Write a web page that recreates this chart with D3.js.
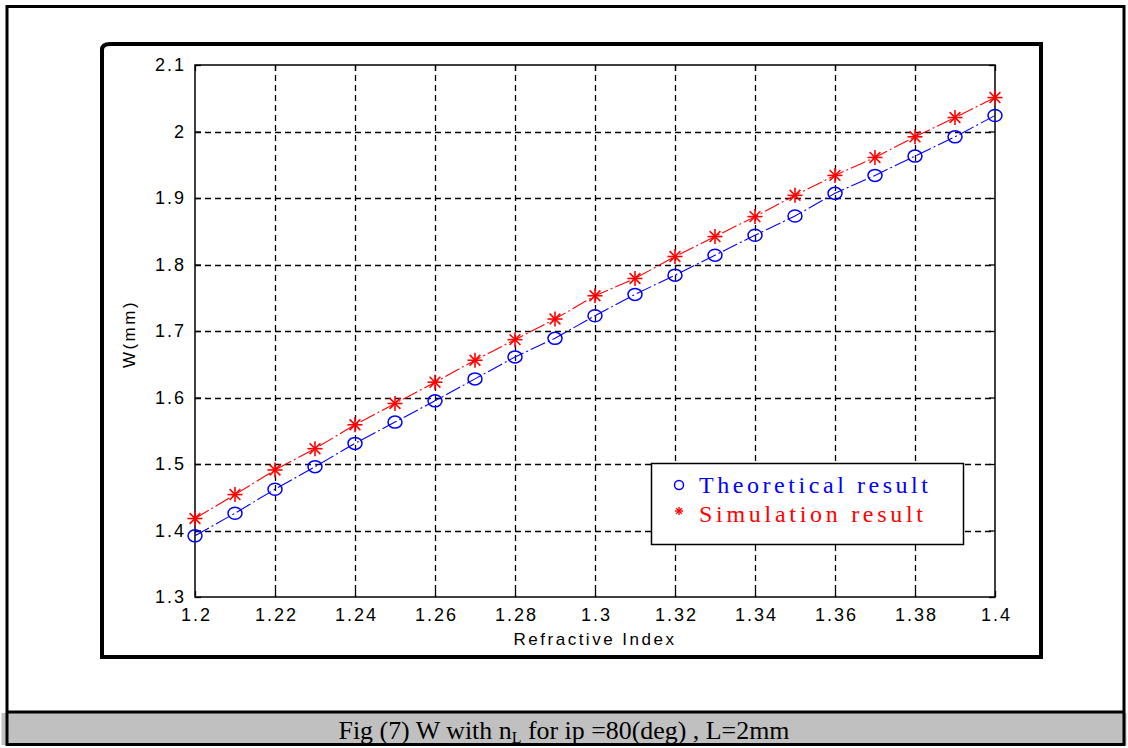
<!DOCTYPE html>
<html lang="en">
  <head>
    <meta charset="utf-8" />
    <title>Fig (7) W with nL</title>
    <script type="text/javascript" src="https://cdn.jsdelivr.net/npm/d3@7"></script>
    <style>
      body { margin:0; padding:0; background:#ffffff; }
      svg { display:block; }
    </style>
  </head>
  <body>
    <script type="text/javascript">
      var refIndex= [1.20,1.21,1.22,1.23,1.24,1.25,1.26,1.27,1.28,1.29,1.30,1.31,1.32,1.33,1.34,1.35,1.36,1.37,1.38,1.39,1.40];
      var theoretical= [1.392,1.426,1.462,1.496,1.531,1.563,1.595,1.628,1.661,1.689,1.723,1.755,1.784,1.814,1.844,1.873,1.907,1.934,1.963,1.992,2.024];
      var simulation= [1.418,1.454,1.491,1.523,1.559,1.591,1.623,1.656,1.687,1.718,1.753,1.779,1.812,1.842,1.872,1.904,1.934,1.961,1.992,2.021,2.051];
      var xTicks= [1.2,1.22,1.24,1.26,1.28,1.3,1.32,1.34,1.36,1.38,1.4];
      var xTickLabels= ["1.2","1.22","1.24","1.26","1.28","1.3","1.32","1.34","1.36","1.38","1.4"];
      var yTicks= [1.3,1.4,1.5,1.6,1.7,1.8,1.9,2.0,2.1];
      var yTickLabels= ["1.3","1.4","1.5","1.6","1.7","1.8","1.9","2","2.1"];
      var legendNames= ["Theoretical result","Simulation result"];
      var captionText= ["Fig (7) W with n","L"," for ip =80(deg) , L=2mm"];

      var W= 1128, H= 748;
      var plotL= 195, plotR= 995, plotT= 65, plotB= 597;

      var svg= d3.select("body")
                 .append("svg")
                 .attr("width",W)
                 .attr("height",H)

      /*~~~~~~~~~~~~~~~~~~~~~~~~~~~~~~ OUTER PAGE FRAME + CAPTION ~~~~~~~~~~~~~~~~~~~~~~~~~~~~~~*/

      svg.append("rect")
         .attr("x",1.5).attr("y",713)
         .attr("width",W-3).attr("height",32)
         .attr("fill","#c0c0c0")

      svg.append("rect")
         .attr("x",7).attr("y",6.5)
         .attr("width",1117).attr("height",738)
         .attr("fill","none")
         .attr("stroke","#000")
         .attr("stroke-width",3)

      svg.append("line")
         .attr("x1",7).attr("x2",1124)
         .attr("y1",712).attr("y2",712)
         .attr("stroke","#000")
         .attr("stroke-width",3)

      var caption= svg.append("text")
                      .attr("x",W/2)
                      .attr("y",739)
                      .attr("text-anchor","middle")
                      .attr("font-family","'Liberation Serif', 'Times New Roman', serif")
                      .attr("font-size",26)
                      .attr("textLength",451)
                      .attr("lengthAdjust","spacingAndGlyphs")
                      .attr("fill","#000")
      caption.append("tspan").text(captionText[0])
      caption.append("tspan").attr("baseline-shift","-25%").attr("font-size",16).text(captionText[1])
      caption.append("tspan").text(captionText[2])

      /*~~~~~~~~~~~~~~~~~~~~~~~~~~~~~~ FIGURE FRAME (thick) ~~~~~~~~~~~~~~~~~~~~~~~~~~~~~~*/

      svg.append("path")
         .attr("d","M102,657 L102,50 Q102,44 110,44 L1041,44 L1041,657 Z")
         .attr("fill","none")
         .attr("stroke","#000")
         .attr("stroke-width",4)

      /*~~~~~~~~~~~~~~~~~~~~~~~~~~~~~~ SCALES ~~~~~~~~~~~~~~~~~~~~~~~~~~~~~~*/

      var x= d3.scaleLinear().domain([1.2,1.4]).range([plotL,plotR]);
      var y= d3.scaleLinear().domain([1.3,2.1]).range([plotB,plotT]);

      /*~~~~~~~~~~~~~~~~~~~~~~~~~~~~~~ GRID ~~~~~~~~~~~~~~~~~~~~~~~~~~~~~~*/

      var grid= svg.append("g").attr("stroke","#000").attr("stroke-width",1.3).attr("stroke-dasharray","6,4")

      grid.selectAll(".vgrid")
          .data(xTicks.slice(1,-1))
          .enter()
          .append("line")
          .attr("x1",function(d) { return Math.round(x(d))+0.5; })
          .attr("x2",function(d) { return Math.round(x(d))+0.5; })
          .attr("y1",plotT).attr("y2",plotB)

      grid.selectAll(".hgrid")
          .data(yTicks.slice(1,-1))
          .enter()
          .append("line")
          .attr("y1",function(d) { return Math.round(y(d))+0.5; })
          .attr("y2",function(d) { return Math.round(y(d))+0.5; })
          .attr("x1",plotL).attr("x2",plotR)

      /*~~~~~~~~~~~~~~~~~~~~~~~~~~~~~~ AXES ~~~~~~~~~~~~~~~~~~~~~~~~~~~~~~*/

      var tickFont= "'Liberation Sans', Arial, sans-serif";

      var xAxis= svg.append("g")
                    .attr("transform","translate(0,"+plotB+")")
                    .call(d3.axisBottom(x).tickValues(xTicks).tickSizeInner(-6).tickSizeOuter(0).tickPadding(11)
                          .tickFormat(function(d,i) { return xTickLabels[i]; }))
      xAxis.select(".domain").remove()
      xAxis.selectAll("line").attr("stroke","#000").attr("stroke-width",1.3)
      xAxis.selectAll("text").attr("font-family",tickFont).attr("font-size",18).attr("letter-spacing",2).attr("dx",1).attr("fill","#000")

      var yAxis= svg.append("g")
                    .attr("transform","translate("+plotL+",0)")
                    .call(d3.axisLeft(y).tickValues(yTicks).tickSizeInner(-6).tickSizeOuter(0).tickPadding(9)
                          .tickFormat(function(d,i) { return yTickLabels[i]; }))
      yAxis.select(".domain").remove()
      yAxis.selectAll("line").attr("stroke","#000").attr("stroke-width",1.3)
      yAxis.selectAll("text").attr("font-family",tickFont).attr("font-size",18).attr("letter-spacing",2).attr("fill","#000")

      // matching inner ticks on top and right
      svg.append("g")
         .call(d3.axisTop(x).tickValues(xTicks).tickSizeInner(-6).tickSizeOuter(0).tickFormat(""))
         .attr("transform","translate(0,"+plotT+")")
         .call(function(g) { g.select(".domain").remove(); g.selectAll("line").attr("stroke","#000").attr("stroke-width",1.3); })

      svg.append("g")
         .call(d3.axisRight(y).tickValues(yTicks).tickSizeInner(-6).tickSizeOuter(0).tickFormat(""))
         .attr("transform","translate("+plotR+",0)")
         .call(function(g) { g.select(".domain").remove(); g.selectAll("line").attr("stroke","#000").attr("stroke-width",1.3); })

      svg.append("rect")
         .attr("x",plotL).attr("y",plotT)
         .attr("width",plotR-plotL).attr("height",plotB-plotT)
         .attr("fill","none")
         .attr("stroke","#000")
         .attr("stroke-width",1.5)

      svg.append("text")
         .attr("x",(plotL+plotR)/2)
         .attr("y",645)
         .attr("text-anchor","middle")
         .attr("font-family",tickFont)
         .attr("font-size",17)
         .attr("letter-spacing",2.5)
         .text("Refractive Index")

      svg.append("text")
         .attr("transform","translate(135,"+334+") rotate(-90)")
         .attr("text-anchor","middle")
         .attr("font-family",tickFont)
         .attr("font-size",17)
         .attr("letter-spacing",2.5)
         .text("W(mm)")

      /*~~~~~~~~~~~~~~~~~~~~~~~~~~~~~~ SERIES ~~~~~~~~~~~~~~~~~~~~~~~~~~~~~~*/

      var line= d3.line()
                  .x(function(d) { return x(d[0]); })
                  .y(function(d) { return y(d[1]); })

      var theoPts= d3.zip(refIndex,theoretical);
      var simPts= d3.zip(refIndex,simulation);

      svg.append("path")
         .datum(theoPts)
         .attr("d",line)
         .attr("fill","none")
         .attr("stroke","#0000ff")
         .attr("stroke-width",1.1)
         .attr("stroke-dasharray","16,3,2,3")

      svg.append("path")
         .datum(simPts)
         .attr("d",line)
         .attr("fill","none")
         .attr("stroke","#ff0000")
         .attr("stroke-width",1.1)
         .attr("stroke-dasharray","16,3,2,3")

      svg.selectAll(".theo")
         .data(theoPts)
         .enter()
         .append("ellipse")
         .attr("cx",function(d) { return x(d[0]); })
         .attr("cy",function(d) { return y(d[1]); })
         .attr("rx",7)
         .attr("ry",6)
         .attr("fill","none")
         .attr("stroke","#0000ff")
         .attr("stroke-width",1.5)

      function star(g,r) {
        g.append("line").attr("x1",-r).attr("x2",r).attr("y1",0).attr("y2",0)
        g.append("line").attr("x1",0).attr("x2",0).attr("y1",-r).attr("y2",r)
        g.append("line").attr("x1",-r*0.72).attr("x2",r*0.72).attr("y1",-r*0.72).attr("y2",r*0.72)
        g.append("line").attr("x1",-r*0.72).attr("x2",r*0.72).attr("y1",r*0.72).attr("y2",-r*0.72)
      }

      svg.selectAll(".sim")
         .data(simPts)
         .enter()
         .append("g")
         .attr("transform",function(d) { return "translate("+x(d[0])+","+y(d[1])+")"; })
         .attr("stroke","#ff0000")
         .attr("stroke-width",1.6)
         .each(function() { star(d3.select(this),7.5); })

      /*~~~~~~~~~~~~~~~~~~~~~~~~~~~~~~ LEGEND ~~~~~~~~~~~~~~~~~~~~~~~~~~~~~~*/

      var legend= svg.append("g")

      legend.append("rect")
            .attr("x",651.5).attr("y",463.5)
            .attr("width",312).attr("height",81)
            .attr("fill","#fff")
            .attr("stroke","#000")
            .attr("stroke-width",1.5)

      legend.append("ellipse")
            .attr("cx",679).attr("cy",485)
            .attr("rx",4.5).attr("ry",4.5)
            .attr("fill","none")
            .attr("stroke","#0000ff")
            .attr("stroke-width",1.5)

      legend.append("g")
            .attr("transform","translate(679,511)")
            .attr("stroke","#ff0000")
            .attr("stroke-width",1.4)
            .call(function(g) { star(g,4); })

      legend.selectAll(".legText")
            .data(legendNames)
            .enter()
            .append("text")
            .attr("x",699)
            .attr("y",function(d,i) { return 493 + i*29; })
            .attr("font-family","'Liberation Serif', 'Times New Roman', serif")
            .attr("font-size",24)
            .attr("textLength",function(d,i) { return i==0 ? 229 : 224; })
            .attr("lengthAdjust","spacing")
            .attr("fill",function(d,i) { return i==0 ? "#0000ff" : "#ff0000"; })
            .text(function(d) { return d; })
    </script>
  </body>
</html>
